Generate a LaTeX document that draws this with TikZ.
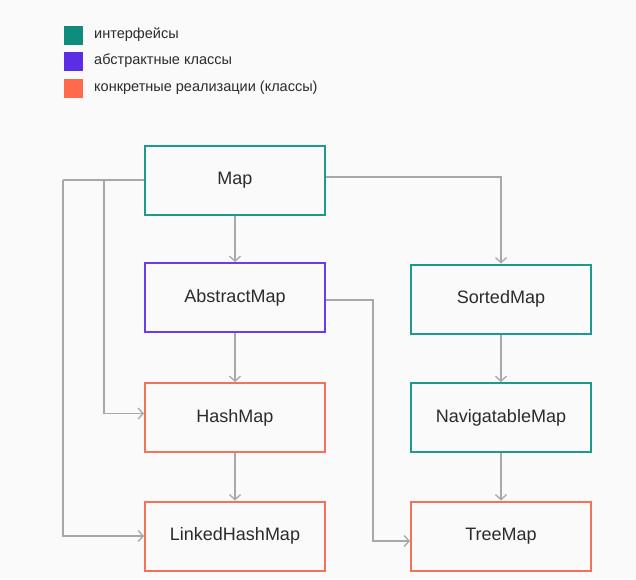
\documentclass[tikz,border=0pt]{standalone}
\usepackage{fontspec}
\setmainfont{Liberation Sans}
\usetikzlibrary{arrows.meta}
\definecolor{bgc}{HTML}{FAFAFA}
\definecolor{tealc}{HTML}{1E9A8C}
\definecolor{purplec}{HTML}{6A3CF0}
\definecolor{coralc}{HTML}{F4715A}
\definecolor{legteal}{HTML}{0E8C7E}
\definecolor{legpurple}{HTML}{5B2EE6}
\definecolor{legcoral}{HTML}{FF6A4D}
\definecolor{linec}{HTML}{A8A8A8}
\definecolor{txtc}{HTML}{2B2B2B}
\begin{document}
\begin{tikzpicture}[x=1pt,y=-1pt,
  box/.style={draw,line width=2pt,minimum width=180pt,minimum height=69pt,inner sep=0pt,fill=bgc,text=txtc,font=\fontsize{18}{21}\selectfont},
  iface/.style={box,draw=tealc},
  abstr/.style={box,draw=purplec},
  concr/.style={box,draw=coralc},
  conn/.style={draw=linec,line width=1.5pt,-{Straight Barb[length=5pt,width=11pt,line width=1.3pt]}},
  legsq/.style={minimum size=19pt,inner sep=0pt},
  legtxt/.style={anchor=west,text=txtc,inner sep=0pt,font=\fontsize{14.5}{17}\selectfont}]
\fill[bgc] (0,0) rectangle (636,579);
\useasboundingbox (0,0) rectangle (636,579);
% legend
\node[legsq,fill=legteal] (l1) at (73,35) {};
\node[legsq,fill=legpurple] (l2) at (73,61) {};
\node[legsq,fill=legcoral] (l3) at (73,88) {};
\node[legtxt] (t1) at (94,35) {интерфейсы};
\node[legtxt] (t2) at (94,61) {абстрактные классы};
\node[legtxt] (t3) at (94,88) {конкретные реализации (классы)};
% nodes
\node[iface] (map) at (235,180) {Map};
\node[abstr] (amap) at (235,297.5) {AbstractMap};
\node[concr] (hmap) at (235,417.5) {HashMap};
\node[concr] (lhmap) at (235,536) {LinkedHashMap};
\node[iface] (smap) at (501,299) {SortedMap};
\node[iface] (nmap) at (501,417.5) {NavigatableMap};
\node[concr] (tmap) at (501,536) {TreeMap};
% connectors
\coordinate (j1) at (104,180);
\coordinate (j2) at (63,180);
\coordinate (j3) at (373,300);
\draw[conn] (map) -- (amap);
\draw[conn] (amap) -- (hmap);
\draw[conn] (hmap) -- (lhmap);
\draw[conn] (smap) -- (nmap);
\draw[conn] (nmap) -- (tmap);
\draw[conn] ([yshift=3pt]map.east) -| (smap.north);
\draw[draw=linec,line width=1.5pt] (map.west) -- (j2);
\draw[conn] (j1) |- ([yshift=4pt]hmap.west);
\draw[conn] (j2) |- (lhmap.west);
\draw[conn] (amap.east |- j3) -- (j3) |- ([yshift=-5pt]tmap.west);
\end{tikzpicture}
\end{document}
